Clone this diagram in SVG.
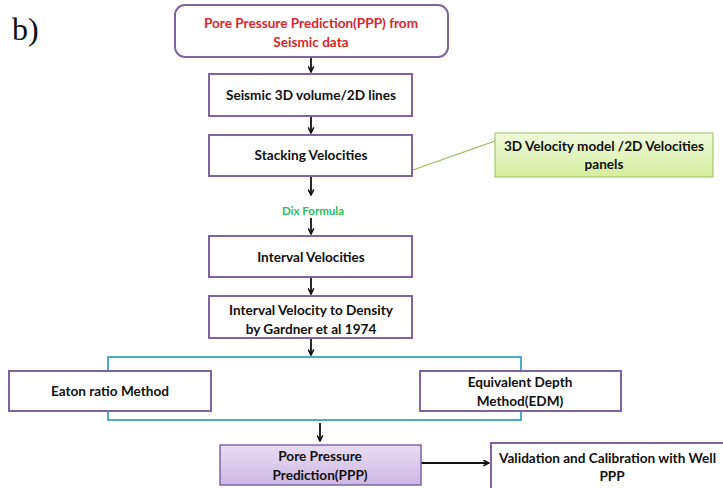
<svg xmlns="http://www.w3.org/2000/svg" width="723" height="488" viewBox="0 0 723 488">
<defs>
<style>
.box{fill:#fff;stroke:#8064a2;stroke-width:2}
.t{font-family:Lato,"Liberation Sans",sans-serif;font-weight:bold;font-size:13.6px;fill:#111;text-anchor:middle}
.red{fill:#e0262b}
.ln{stroke:#111;stroke-width:1.8;fill:none;marker-end:url(#ah)}
</style>
<marker id="ah" viewBox="0 0 10 10" refX="9" refY="5" markerWidth="7" markerHeight="7" orient="auto" markerUnits="userSpaceOnUse">
<path d="M1,1 L9,5 L1,9" fill="none" stroke="#111" stroke-width="2.2"/>
</marker>
<linearGradient id="pg" x1="0" y1="0" x2="0" y2="1">
<stop offset="0" stop-color="#e8dcf3"/>
<stop offset="1" stop-color="#cdb8e4"/>
</linearGradient>
<linearGradient id="gg" x1="0" y1="0" x2="0" y2="1">
<stop offset="0" stop-color="#f0f9dc"/>
<stop offset="1" stop-color="#d6ee9e"/>
</linearGradient>
</defs>
<rect width="723" height="488" fill="#fff"/>
<text x="12" y="40" font-family="Liberation Serif,serif" font-size="32" fill="#111">b)</text>

<g id="connectors">
<line class="ln" x1="311" y1="57" x2="311" y2="72"/>
<line class="ln" x1="311" y1="117" x2="311" y2="133"/>
<line class="ln" x1="311" y1="177" x2="311" y2="195"/>
<line class="ln" x1="311" y1="218" x2="311" y2="234"/>
<line class="ln" x1="311" y1="278" x2="311" y2="294"/>
<line class="ln" x1="311" y1="339" x2="311" y2="355"/>
<line class="ln" x1="320" y1="423" x2="320" y2="441"/>
<line class="ln" x1="421" y1="463" x2="489" y2="463"/>
<line x1="413" y1="170" x2="495" y2="141" stroke="#9bbb59" stroke-width="1.2"/>
<rect x="108" y="357" width="413" height="63" fill="none" stroke="#4bacc6" stroke-width="2"/>
<text x="313" y="215" font-family="Lato,'Liberation Sans',sans-serif" font-weight="bold" font-size="11.5" fill="#2ebd5a" text-anchor="middle">Dix Formula</text>
</g>

<g id="n1">
<rect class="box" x="175" y="5" width="273" height="52" rx="10"/>
<text class="t red" x="311" y="28">Pore Pressure Prediction(PPP) from</text>
<text class="t red" x="311" y="47">Seismic data</text>
</g>
<g id="n2">
<rect class="box" x="209" y="74" width="203" height="42"/>
<text class="t" x="311" y="100">Seismic 3D volume/2D lines</text>
</g>
<g id="n3">
<rect class="box" x="209" y="135" width="203" height="41"/>
<text class="t" x="311" y="160">Stacking Velocities</text>
</g>
<g id="n4">
<rect x="495" y="133" width="218" height="44" fill="url(#gg)" stroke="#9bbb59" stroke-width="1"/>
<text class="t" x="604" y="151">3D Velocity model /2D Velocities</text>
<text class="t" x="604" y="169">panels</text>
</g>
<g id="n5">
<rect class="box" x="209" y="236" width="203" height="41"/>
<text class="t" x="311" y="262">Interval Velocities</text>
</g>
<g id="n6">
<rect class="box" x="209" y="296" width="203" height="42"/>
<text class="t" x="311" y="315">Interval Velocity to Density</text>
<text class="t" x="311" y="334">by Gardner et al 1974</text>
</g>
<g id="n7">
<rect class="box" x="9" y="371" width="202" height="40"/>
<text class="t" x="110" y="396">Eaton ratio Method</text>
</g>
<g id="n8">
<rect class="box" x="420" y="371" width="201" height="40"/>
<text class="t" x="520" y="387">Equivalent Depth</text>
<text class="t" x="520" y="406">Method(EDM)</text>
</g>
<g id="n9">
<rect x="220" y="445" width="201" height="40" fill="url(#pg)" stroke="#8064a2" stroke-width="1.5"/>
<text class="t" x="320" y="461">Pore Pressure</text>
<text class="t" x="320" y="480">Prediction(PPP)</text>
</g>
<g id="n10">
<rect class="box" x="491" y="443" width="240" height="50"/>
<text class="t" x="499" y="463" style="text-anchor:start">Validation and Calibration with Well</text>
<text class="t" x="612" y="481">PPP</text>
</g>
</svg>
